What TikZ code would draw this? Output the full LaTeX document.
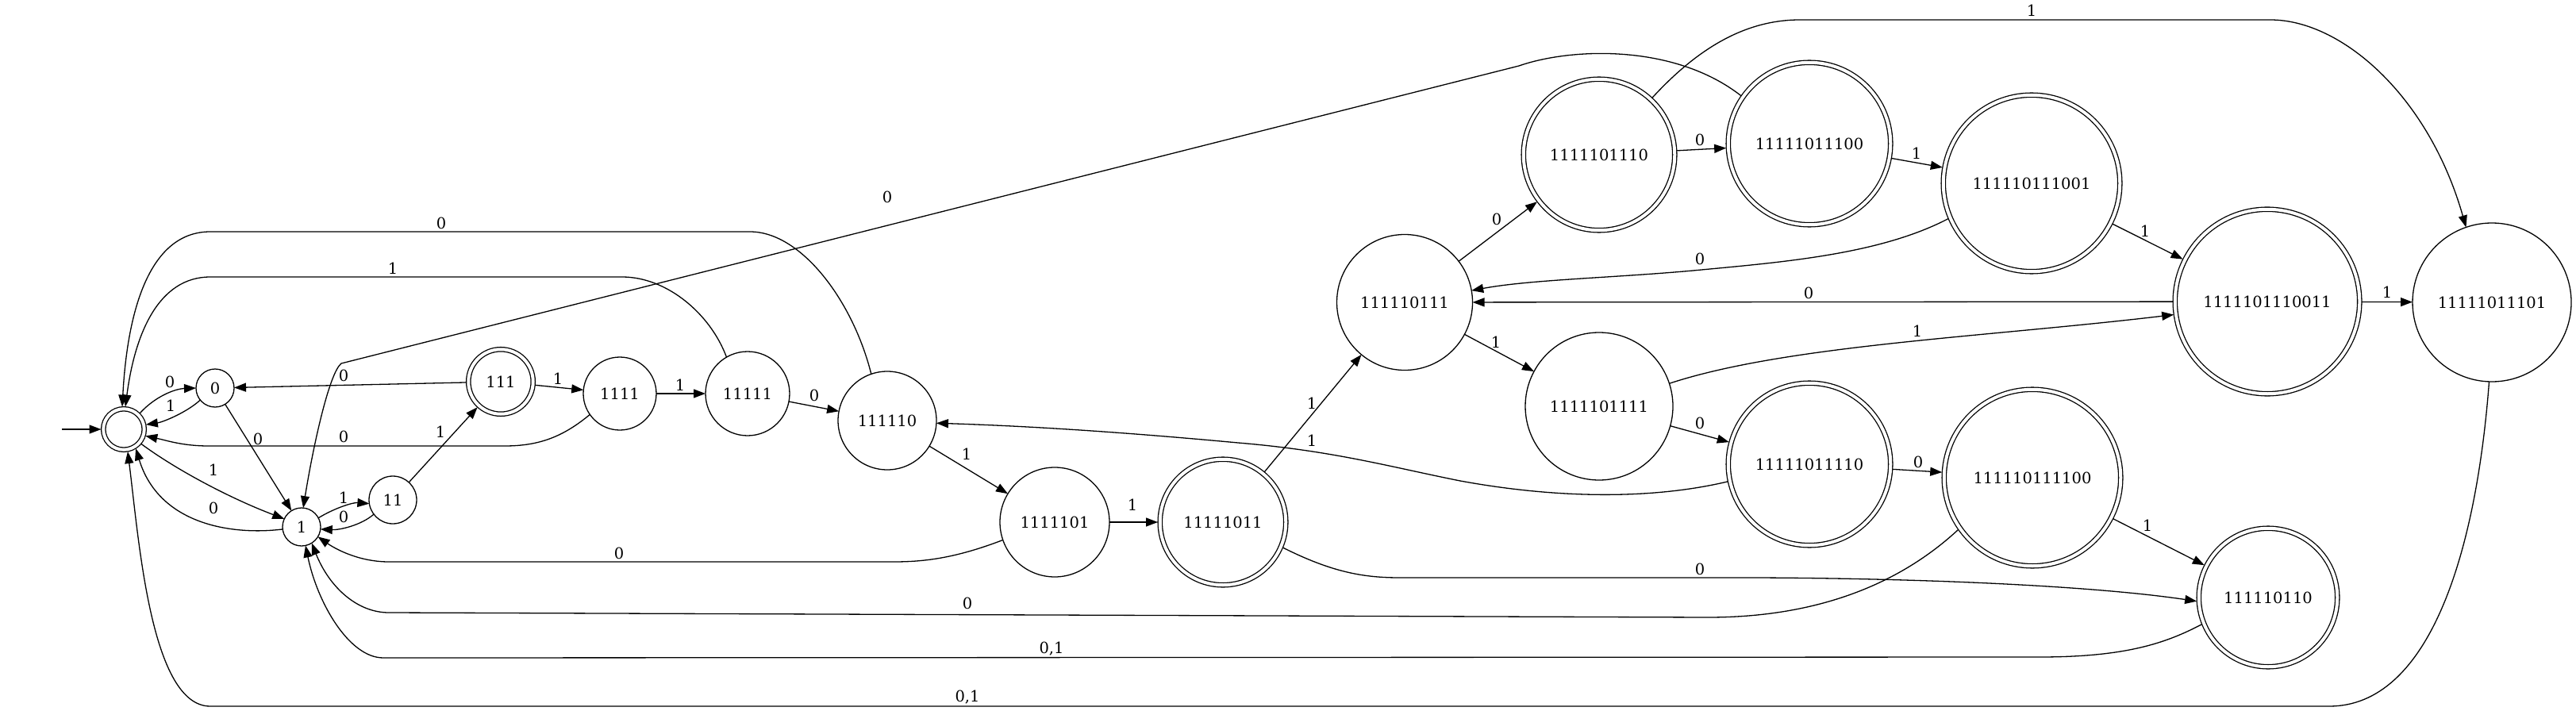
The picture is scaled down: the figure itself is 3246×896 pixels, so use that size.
\documentclass[tikz,border=0pt]{standalone}
\usepackage{fontspec}
\setmainfont{DejaVu Serif}
\usetikzlibrary{arrows.meta}
\tikzset{
  txt/.style={font=\fontsize{19.5}{23}\selectfont},
  st/.style={txt, draw, circle, line width=1.3pt, inner sep=0pt, outer sep=0pt, minimum size=#1},
  acc/.style={txt, draw, circle, line width=1.3pt, double, double distance=4pt, inner sep=0pt, outer sep=2.75pt, minimum size=#1},
  edge/.style={line width=1.3pt, -{Triangle[length=15pt,width=11pt]}},
  lbl/.style={txt, inner sep=0pt},
}
\begin{document}
\begin{tikzpicture}[x=1pt,y=-1pt]
\useasboundingbox (0,0) rectangle (3246,896);
% states
\coordinate (S) at (78,541);
\node[acc=51.5pt] (E) at (156,541) {};
\node[st=48pt] (Q0) at (271,489) {0};
\node[st=48pt] (Q1) at (380,664) {1};
\node[st=60pt] (Q11) at (495,630) {11};
\node[acc=81.5pt] (Q111) at (631,481) {111};
\node[st=92pt] (Q1111) at (781,496) {1111};
\node[st=106pt] (Q11111) at (942,496) {11111};
\node[st=124pt] (Q111110) at (1118,530) {111110};
\node[st=138pt] (Q1111101) at (1329,658) {1111101};
\node[acc=158.5pt] (Q11111011) at (1541,658) {11111011};
\node[st=171pt] (Q111110111) at (1770,381) {111110111};
\node[st=186pt] (Q1111101111) at (2015,512) {1111101111};
\node[acc=190.5pt] (Q1111101110) at (2015,195) {1111101110};
\node[acc=204.5pt] (Q11111011100) at (2280,181) {11111011100};
\node[acc=204.5pt] (Q11111011110) at (2280,585) {11111011110};
\node[acc=222.5pt] (Q111110111001) at (2560,231) {111110111001};
\node[acc=222.5pt] (Q111110111100) at (2561,602) {111110111100};
\node[acc=232.5pt] (Q1111101110011) at (2857,380) {1111101110011};
\node[acc=174.5pt] (Q111110110) at (2858,753) {111110110};
\node[st=200pt] (Q11111011101) at (3140,381) {11111011101};
% start
\draw[edge] (S) -- (E);
% short curved edges on the left
\draw[edge] (E.45) .. controls (195,500) and (220,490) .. (Q0.180);
\draw[edge] (Q0.219) .. controls (235,520) and (205,532) .. (E.12);
\draw[edge] (Q0) -- (Q1);
\draw[edge] (E.-40) .. controls (222,592) and (290,628) .. (Q1.155);
\draw[edge] (Q1.187) .. controls (290,675) and (200,660) .. (E.302);
\draw[edge] (Q1.28) .. controls (422,640) and (445,633) .. (Q11.189);
\draw[edge] (Q11.217) .. controls (455,662) and (428,668) .. (Q1.353);
\draw[edge] (Q11) -- (Q111);
\draw[edge] (Q111) -- (Q0);
% straight chain
\draw[edge] (Q111) -- (Q1111);
\draw[edge] (Q1111) -- (Q11111);
\draw[edge] (Q11111) -- (Q111110);
\draw[edge] (Q111110) -- (Q1111101);
\draw[edge] (Q1111101) -- (Q11111011);
\draw[edge] (Q11111011) -- (Q111110111);
\draw[edge] (Q111110111) -- (Q1111101110);
\draw[edge] (Q111110111) -- (Q1111101111);
\draw[edge] (Q1111101110) -- (Q11111011100);
\draw[edge] (Q11111011100) -- (Q111110111001);
\draw[edge] (Q111110111001) -- (Q1111101110011);
\draw[edge] (Q1111101110011) -- (Q11111011101);
\draw[edge] (Q1111101110011) -- (Q111110111);
\draw[edge] (Q1111101111) -- (Q11111011110);
\draw[edge] (Q11111011110) -- (Q111110111100);
\draw[edge] (Q111110111100) -- (Q111110110);
% long edges
\draw[edge] (Q1111.215) .. controls (710,550) and (680,562) .. (636,562) -- (263,562) .. controls (230,562) and (210,555) .. (E.343);
\draw[edge] (Q11111.120) .. controls (895,395) and (840,349) .. (784,349) -- (265,349) .. controls (200,349) and (170,420) .. (E.86);
\draw[edge] (Q111110.109.5) .. controls (1075,380) and (1010,292) .. (945,292) -- (265,292) .. controls (185,292) and (160,400) .. (E.94);
\draw[edge] (Q1111101.199.6) .. controls (1200,705) and (1160,708) .. (1125,708) -- (490,708) .. controls (450,708) and (420,690) .. (Q1.329);
\draw[edge] (Q11111011.337) .. controls (1680,722) and (1720,728) .. (1764,728) -- (2213,728) .. controls (2450,729) and (2650,740) .. (Q111110110.183);
\draw[edge] (Q111110111100.215) .. controls (2400,730) and (2300,778) .. (2152,778) -- (490,772) .. controls (450,772) and (415,740) .. (Q1.302);
\draw[edge] (Q111110110.202.5) .. controls (2730,810) and (2680,828) .. (2570,828) -- (483,829) .. controls (440,829) and (400,760) .. (Q1.282);
\draw[edge] (Q11111011101.268) .. controls (3120,700) and (3060,890) .. (2935,890) -- (265,890) .. controls (190,890) and (175,680) .. (E.280);
\draw[edge] (Q11111011100.145) .. controls (2110,55) and (1980,60) .. (1914,83) -- (430,458) .. controls (415,470) and (395,560) .. (Q1.85);
\draw[edge] (Q1111101110.47) .. controls (2140,60) and (2200,25) .. (2268,25) -- (2861,25) .. controls (2950,25) and (3060,120) .. (Q11111011101.109);
\draw[edge] (Q111110111001.203) .. controls (2370,320) and (2250,330) .. (2144,340) .. controls (2040,350) and (1930,352) .. (Q111110111.10);
\draw[edge] (Q11111011110.192) .. controls (2080,630) and (1960,628) .. (1840,606) .. controls (1750,588) and (1680,568) .. (1560,558) .. controls (1420,545) and (1300,537) .. (Q111110.357);
\draw[edge] (Q1111101111.18) .. controls (2250,435) and (2500,425) .. (Q1111101110011.188);
% labels
\node[lbl] (l01) at (214,481) {0};
\node[lbl] (l02) at (215,511) {1};
\node[lbl] (l03) at (325,553) {0};
\node[lbl] (l04) at (269,592) {1};
\node[lbl] (l05) at (269,640) {0};
\node[lbl] (l06) at (433,627) {1};
\node[lbl] (l07) at (433,651) {0};
\node[lbl] (l08) at (555,544) {1};
\node[lbl] (l09) at (433,473) {0};
\node[lbl] (l10) at (703,477) {1};
\node[lbl] (l11) at (857,485) {1};
\node[lbl] (l12) at (1026,498) {0};
\node[lbl] (l13) at (1218,572) {1};
\node[lbl] (l14) at (1427,636) {1};
\node[lbl] (l15) at (1653,508) {1};
\node[lbl] (l16) at (1886,276) {0};
\node[lbl] (l17) at (1885,431) {1};
\node[lbl] (l18) at (2142,176) {0};
\node[lbl] (l19) at (2415,193) {1};
\node[lbl] (l20) at (2703,291) {1};
\node[lbl] (l21) at (3008,368) {1};
\node[lbl] (l22) at (2279,369) {0};
\node[lbl] (l23) at (2142,533) {0};
\node[lbl] (l24) at (2417,582) {0};
\node[lbl] (l25) at (2706,662) {1};
\node[lbl] (l26) at (2142,717) {0};
\node[lbl] (l27) at (1219,760) {0};
\node[lbl] (l28) at (1325,818) {0,1};
\node[lbl] (l29) at (780,697) {0};
\node[lbl] (l30) at (1219,879) {0,1};
\node[lbl] (l31) at (495,338) {1};
\node[lbl] (l32) at (556,281) {0};
\node[lbl] (l33) at (433,550) {0};
\node[lbl] (l34) at (1118,248) {0};
\node[lbl] (l35) at (2560,13) {1};
\node[lbl] (l36) at (2142,326) {0};
\node[lbl] (l37) at (1653,555) {1};
\node[lbl] (l38) at (2416,417) {1};
\end{tikzpicture}
\end{document}
